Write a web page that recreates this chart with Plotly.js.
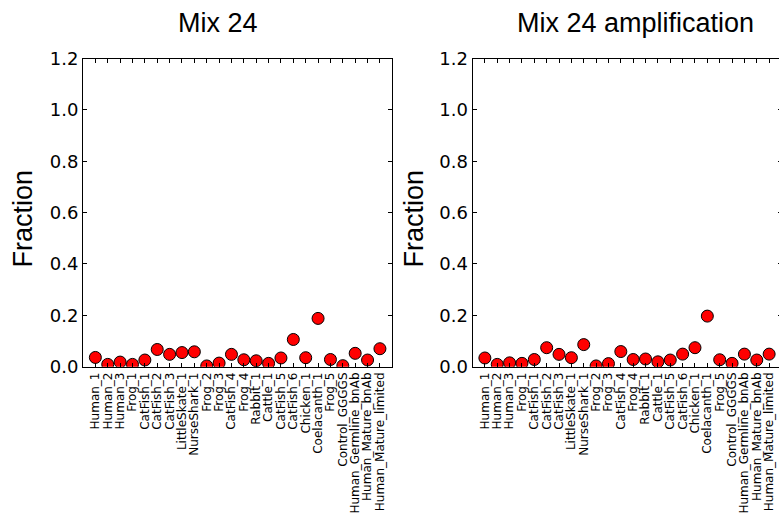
<!DOCTYPE html>
<html>
<head>
<meta charset="utf-8">
<script src="https://cdn.plot.ly/plotly-3.0.1.min.js"></script>
<style>
html,body{margin:0;padding:0;background:#fff;overflow:hidden;width:779px;height:517px;}
#chart{width:784px;height:517px;}
</style>
</head>
<body>
<div id="chart"></div>
<script>
var categories = ["Human_1","Human_2","Human_3","Frog_1","CatFish_1","CatFish_2","CatFish_3","LittleSkate_1","NurseShark_1","Frog_2","Frog_3","CatFish_4","Frog_4","Rabbit_1","Cattle_1","CatFish_5","CatFish_6","Chicken_1","Coelacanth_1","Frog_5","Control_GGGGS","Human_Germline_bnAb","Human_Mature_bnAb","Human_Mature_limited"];
var mix24 = [0.036,0.009,0.018,0.009,0.026,0.067,0.048,0.055,0.058,0.003,0.014,0.048,0.027,0.023,0.013,0.034,0.106,0.035,0.188,0.028,0.004,0.052,0.026,0.070];
var mix24Amp = [0.034,0.009,0.015,0.013,0.028,0.074,0.048,0.035,0.086,0.003,0.012,0.059,0.028,0.030,0.019,0.026,0.049,0.074,0.197,0.027,0.013,0.049,0.026,0.049];
var titles = ["Mix 24","Mix 24 amplification"];
var yTitle = "Fraction";
var yTicks = [0,0.2,0.4,0.6,0.8,1.0,1.2];
var yTickText = ["0.0","0.2","0.4","0.6","0.8","1.0","1.2"];

var W = 784, H = 517;
function px(x){return x/W;}
function py(y){return 1 - y/H;}

var marker = {size:12, color:'#ff0000', line:{color:'#000', width:1}};
var traces = [
  {x:categories, y:mix24, type:'scatter', mode:'markers', marker:marker, xaxis:'x', yaxis:'y', cliponaxis:true, hoverinfo:'none'},
  {x:categories, y:mix24Amp, type:'scatter', mode:'markers', marker:marker, xaxis:'x2', yaxis:'y2', cliponaxis:true, hoverinfo:'none'}
];

function xax(domain, anchor){
  return {domain:domain, anchor:anchor, type:'category', categoryorder:'array', categoryarray:categories,
    range:[-1,24], tickmode:'linear', tick0:0, dtick:1, tickangle:-90,
    ticks:'inside', ticklen:4, tickwidth:1, tickcolor:'#000', mirror:'ticks',
    showline:true, linecolor:'#000', linewidth:1, showgrid:false, zeroline:false,
    tickfont:{family:'DejaVu Sans', size:12, color:'#000'}, fixedrange:true};
}
function yax(domain, anchor){
  return {domain:domain, anchor:anchor, range:[0,1.2], tickmode:'array', tickvals:yTicks, ticktext:yTickText,
    ticks:'inside', ticklen:4, tickwidth:1, tickcolor:'#000', mirror:'ticks',
    showline:true, linecolor:'#000', linewidth:1, showgrid:false, zeroline:false,
    tickfont:{family:'DejaVu Sans', size:18, color:'#000'}, fixedrange:true};
}
var yd = [py(366.7), py(58.5)];
var layout = {
  width:W, height:H, margin:{l:0,r:0,t:0,b:0}, showlegend:false,
  paper_bgcolor:'#fff', plot_bgcolor:'#fff',
  xaxis: xax([px(83), px(392.3)], 'y'),
  yaxis: yax(yd, 'x'),
  xaxis2: xax([px(472.5), px(781.5)], 'y2'),
  yaxis2: yax(yd, 'x2'),
  annotations:[
    {text:titles[0], xref:'paper', yref:'paper', x:px(218), y:py(23), xanchor:'center', yanchor:'middle', showarrow:false, font:{family:'Liberation Sans', size:27, color:'#000'}},
    {text:titles[1], xref:'paper', yref:'paper', x:px(635), y:py(23), xanchor:'center', yanchor:'middle', showarrow:false, font:{family:'Liberation Sans', size:27, color:'#000'}},
    {text:yTitle, xref:'paper', yref:'paper', x:px(22), y:py(218.5), xanchor:'center', yanchor:'middle', textangle:-90, showarrow:false, font:{family:'Liberation Sans', size:27, color:'#000'}},
    {text:yTitle, xref:'paper', yref:'paper', x:px(413), y:py(218.5), xanchor:'center', yanchor:'middle', textangle:-90, showarrow:false, font:{family:'Liberation Sans', size:27, color:'#000'}}
  ]
};
Plotly.newPlot('chart', traces, layout, {staticPlot:true, displayModeBar:false});
</script>
</body>
</html>
